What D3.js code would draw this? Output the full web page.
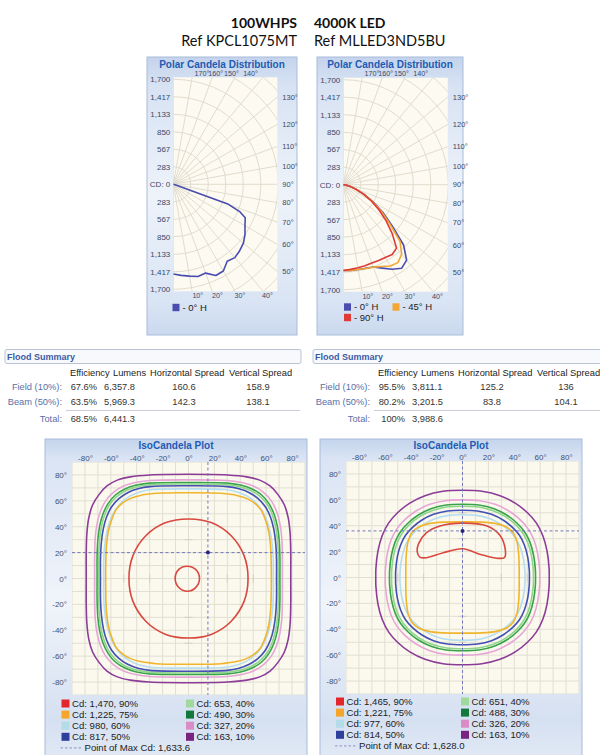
<!DOCTYPE html>
<html><head><meta charset="utf-8">
<script src="https://cdn.jsdelivr.net/npm/d3@7"></script>
<style>body{margin:0;background:#fff}svg{display:block}</style>
</head><body><svg id="c" width="600" height="755"></svg>
<script>
// ---------------- DATA ----------------
const titleLeft = ["100WHPS", "Ref KPCL1075MT"];
const titleRight = ["4000K LED", "Ref MLLED3ND5BU"];

// Polar candela distribution
const radialTicks = [283, 567, 850, 1133, 1417, 1700];
const radialTickLabels = ["283", "567", "850", "1,133", "1,417", "1,700"];
const gridCircles = [283, 567, 850, 1133, 1417, 1700, 1983, 2267];
const rightSideAngles = [50, 60, 70, 80, 90, 100, 110, 120, 130];
const topAngles = [170, 160, 150, 140];
const bottomAngles = [10, 20, 30, 40];

const leftPolarAngles = [0, 5, 10, 15, 20, 25, 30, 35, 40, 45, 50, 55, 60, 65, 67.5, 70, 75, 80, 85, 90];
const leftPolar0H = [1452, 1480, 1510, 1545, 1530, 1630, 1620, 1522, 1550, 1520, 1482, 1417, 1340, 1285, 1170, 950, 30, 10, 3, 0];

const rightPolarAngles = [0, 5, 10, 15, 20, 25, 30, 35, 40, 45, 50, 55, 60, 65, 70, 75, 80, 85, 90];
const rightPolar0H = [1390, 1392, 1395, 1400, 1418, 1490, 1580, 1650, 1595, 1380, 1030, 780, 560, 380, 230, 130, 60, 20, 0];
const rightPolar45H = [1390, 1392, 1395, 1405, 1420, 1460, 1520, 1540, 1470, 1300, 980, 750, 540, 370, 225, 125, 55, 18, 0];
const rightPolar90H = [1390, 1376, 1365, 1358, 1350, 1355, 1360, 1380, 1340, 1120, 900, 700, 520, 360, 220, 120, 55, 18, 0];

// Flood summary
const floodCols = ["Efficiency", "Lumens", "Horizontal Spread", "Vertical Spread"];
const floodRows = ["Field (10%):", "Beam (50%):", "Total:"];
const leftEfficiency = ["67.6%", "63.5%", "68.5%"];
const leftLumens = ["6,357.8", "5,969.3", "6,441.3"];
const leftHSpread = ["160.6", "142.3", ""];
const leftVSpread = ["158.9", "138.1", ""];
const rightEfficiency = ["95.5%", "80.2%", "100%"];
const rightLumens = ["3,811.1", "3,201.5", "3,988.6"];
const rightHSpread = ["125.2", "83.8", ""];
const rightVSpread = ["136", "104.1", ""];

// IsoCandela
const isoTicks = [-80, -60, -40, -20, 0, 20, 40, 60, 80];
const isoGrid = [-90, -80, -70, -60, -50, -40, -30, -20, -10, 0, 10, 20, 30, 40, 50, 60, 70, 80, 90];
const isoLevels = ["90%", "75%", "60%", "50%", "40%", "30%", "20%", "10%"];
const leftIsoLegend = ["Cd: 1,470, 90%", "Cd: 1,225, 75%", "Cd: 980, 60%", "Cd: 817, 50%", "Cd: 653, 40%", "Cd: 490, 30%", "Cd: 327, 20%", "Cd: 163, 10%"];
const rightIsoLegend = ["Cd: 1,465, 90%", "Cd: 1,221, 75%", "Cd: 977, 60%", "Cd: 814, 50%", "Cd: 651, 40%", "Cd: 488, 30%", "Cd: 326, 20%", "Cd: 163, 10%"];
const leftMaxText = "Point of Max Cd: 1,633.6";
const rightMaxText = "Point of Max Cd: 1,628.0";
const leftMaxPoint = [15, 20];
const rightMaxPoint = [0, 36];

// contour quadrants (H deg, V deg), top -> right, mirrored to the other quadrants
const leftIso10 = [[0,80.5],[30,80],[45,78.5],[55,76],[63,71.5],[69,65],[74,57],[77,47],[78.5,35],[79,20],[79,0]];
const leftIso20 = [[0,76.2],[30,75.7],[42,74],[51,71],[58,66.5],[64,60],[68,52],[70.5,43],[72,32],[72.5,18],[72.5,0]];
const leftIso30 = [[0,74.2],[30,73.7],[41,72],[49.5,69],[56.5,64.5],[62,58],[66,50],[68.5,41],[70,30],[70.6,17],[70.6,0]];
const leftIso40 = [[0,73],[30,72.5],[40,70.8],[48.5,67.8],[55.5,63.2],[61,57],[64.8,49],[67.3,40],[68.8,29.5],[69.4,16.5],[69.4,0]];
const leftIso50 = [[0,71.6],[30,71],[39,69.3],[47,66.3],[54,61.5],[59.5,55.2],[63.3,47.5],[65.8,38.5],[67.3,28],[68,15],[68,0]];
const leftIso60 = [[0,69.2],[28,68.7],[37,67],[45,63.8],[51.5,59],[56.8,52.5],[60.6,44.5],[63.2,35.5],[64.8,25],[65.5,13],[65.5,0]];
const leftIso75 = [[0,66.2],[25,65.8],[38,64],[46,61.3],[51.5,57.8],[56,53],[59.5,45],[62,36],[63.4,25],[63.9,12],[64,0]];
const leftIso90 = [[0,46],[18,43],[33,33],[43,17.5],[46,0]];
const leftIso90Inner = [[-1,9.5],[5.5,7],[8.5,0],[5.5,-7],[-1,-9.8],[-7.5,-7],[-10.3,0],[-7.5,7]];

const rightIso10 = [[0,67.4],[15,66.6],[29,63.2],[41,57.3],[50,50.2],[57,42.2],[62,32.5],[65.3,20.5],[66.9,7],[67,0]];
const rightIso20 = [[0,60],[13.4,59.3],[25.8,56.3],[36.5,51],[44.5,44.7],[50.7,37.6],[55.2,29],[58.1,18.3],[59.6,6.2],[59.7,0]];
const rightIso30 = [[0,56.6],[12.6,56],[24.4,53.1],[34.4,48.1],[42,42.1],[47.9,35.4],[52.1,27.3],[54.9,17.2],[56.3,5.9],[56.4,0]];
const rightIso40 = [[0,55],[12.2,54.4],[23.7,51.6],[33.4,46.8],[40.8,41],[46.5,34.4],[50.6,26.5],[53.3,16.7],[54.7,5.7],[54.8,0]];
const rightIso50 = [[0,52],[11.6,51.4],[22.4,48.8],[31.6,44.2],[38.6,38.7],[44,32.6],[47.8,25.1],[50.4,15.8],[51.6,5.4],[51.7,0]];
const rightIso60 = [[0,48.5],[10.8,48],[20.9,45.5],[29.5,41.2],[36,36.1],[41,30.4],[44.6,23.4],[47,14.7],[48.2,5],[48.3,0]];
const rightIso75 = [[0,43],[15,42.8],[26,41.6],[33.5,39.2],[39,34.8],[42,28],[43.4,18],[43.8,6],[43.8,0]];
const rightIso90 = [[0,42],[19,39.8],[29,32.5],[33,22],[32.5,15.5],[28,14.8],[24,15.3],[14,17.8],[0,22.2],[-14.8,19.1],[-27.7,15.3],[-33,15.8],[-35,20],[-34,26],[-28,34.5],[-17.4,39.8]];

// ---------------- STYLE ----------------
const legendColors = ["#e3262b", "#f4a52a", "#b3dbe8", "#2f3f9c", "#9fd99b", "#13793a", "#d88dc6", "#7a2482"];
const lineColors   = ["#d9483f", "#f0b52e", "#b5def0", "#4150b2", "#8fd58b", "#38a34a", "#e6a6d7", "#8b3b98"];
const polarColors = { h0: "#4a4db0", h45: "#f2a634", h90: "#e03a36" };
const FONT = "'Liberation Sans', Arial, sans-serif";

const svg = d3.select("#c");
const defs = svg.append("defs");
function grad(id, stops) {
  const lg = defs.append("linearGradient").attr("id", id).attr("x1", 0).attr("y1", 0).attr("x2", 0).attr("y2", 1);
  stops.forEach(([o, c]) => lg.append("stop").attr("offset", o).attr("stop-color", c));
}
grad("panelG", [["0", "#c4d4ec"], ["0.1", "#d7e2f3"], ["0.5", "#eef3fa"], ["0.88", "#d9e4f4"], ["1", "#cbd9ee"]]);
grad("isoG", [["0", "#c4d4ec"], ["0.06", "#dae4f4"], ["0.5", "#f0f4fa"], ["0.85", "#d5e0f1"], ["1", "#e4ebf6"]]);

svg.append("rect").attr("width", 600).attr("height", 755).attr("fill", "#fff");

// ---------------- TITLE ----------------
const TF = "Lato, 'Open Sans', sans-serif";
const titleY = [28, 45.5], titleFS = [14, 14.5], titleFW = [700, 400];
[0, 1].forEach(i => {
  svg.append("text").attr("x", 297).attr("y", titleY[i]).attr("text-anchor", "end")
    .attr("font-family", TF).attr("font-size", titleFS[i]).attr("font-weight", titleFW[i])
    .attr("fill", "#111").text(titleLeft[i]);
  svg.append("text").attr("x", 314).attr("y", titleY[i]).attr("text-anchor", "start")
    .attr("font-family", TF).attr("font-size", titleFS[i]).attr("font-weight", titleFW[i])
    .attr("fill", "#111").text(titleRight[i]);
});

// ---------------- POLAR ----------------
let clipId = 0;
function drawPolar(cfg) {
  const g = svg.append("g");
  g.append("rect").attr("x", cfg.px).attr("y", 57).attr("width", cfg.pw).attr("height", 278)
    .attr("fill", "url(#panelG)").attr("stroke", "#a9bcd8").attr("stroke-width", 1);
  g.append("text").attr("x", cfg.px + cfg.pw / 2).attr("y", 68).attr("text-anchor", "middle")
    .attr("font-family", FONT).attr("font-weight", 700).attr("font-size", 10).attr("fill", "#1d5bb4")
    .text("Polar Candela Distribution");
  const cx = cfg.cx, cy = cfg.cy, R = cfg.R;
  const r = d3.scaleLinear().domain([0, 1700]).range([0, R]);
  const x0 = cx, x1 = cx + cfg.w, y0 = cy - R - 2, y1 = cy + R + 2;
  g.append("rect").attr("x", x0).attr("y", y0).attr("width", x1 - x0).attr("height", y1 - y0).attr("fill", "#fcfaf1");
  const id = "clip" + (clipId++);
  defs.append("clipPath").attr("id", id).append("rect").attr("x", x0).attr("y", y0).attr("width", x1 - x0).attr("height", y1 - y0);
  const pg = g.append("g").attr("clip-path", `url(#${id})`);
  const rad = a => a * Math.PI / 180;
  const pt = (a, v) => [cx + r(v) * Math.sin(rad(a)), cy + r(v) * Math.cos(rad(a))];
  pg.selectAll("circle.grid").data(gridCircles).join("circle").attr("cx", cx).attr("cy", cy)
    .attr("r", d => r(d)).attr("fill", "none").attr("stroke", "#e1dccd").attr("stroke-width", 1);
  pg.selectAll("line.ray").data(d3.range(0, 181, 10)).join("line")
    .attr("x1", cx).attr("y1", cy).attr("x2", d => pt(d, 3000)[0]).attr("y2", d => pt(d, 3000)[1])
    .attr("stroke", "#e1dccd").attr("stroke-width", 1);
  const line = d3.line().x(d => pt(d[0], d[1])[0]).y(d => pt(d[0], d[1])[1]);
  cfg.series.forEach(s => {
    pg.append("path").attr("d", line(s.angles.map((a, i) => [a, s.values[i]])))
      .attr("fill", "none").attr("stroke", s.color).attr("stroke-width", 1.6).attr("stroke-linejoin", "round");
  });
  const lab = (x, y, t, anchor, fs) => g.append("text").attr("x", x).attr("y", y).attr("dy", "0.35em")
    .attr("text-anchor", anchor).attr("font-family", FONT).attr("font-size", fs).attr("fill", "#3c4866").text(t);
  radialTicks.forEach((v, i) => {
    lab(cx - 3, cy - r(v), radialTickLabels[i], "end", 8);
    lab(cx - 3, cy + r(v), radialTickLabels[i], "end", 8);
  });
  lab(cx - 3, cy, "CD: 0", "end", 8);
  rightSideAngles.forEach(a => {
    const y = cy + (x1 - cx) / Math.tan(rad(a));
    lab(x1 + 5, y, a + "°", "start", 7.5);
  });
  const midX = (x0 + x1) / 2;
  topAngles.forEach(a => {
    const xi = cx + R * Math.tan(rad(180 - a));
    lab(0.7 * xi + 0.3 * midX, y0 - 4, a + "°", "middle", 7.2);
  });
  bottomAngles.forEach(a => {
    const xi = cx + R * Math.tan(rad(a));
    lab(xi + 6, y1 + 4.5, a + "°", "middle", 7.2);
  });
  cfg.legend.forEach(l => {
    g.append("rect").attr("x", l.x).attr("y", l.y - 3.7).attr("width", 7).attr("height", 7.4).attr("fill", l.color);
    g.append("text").attr("x", l.x + 10).attr("y", l.y).attr("dy", "0.35em").attr("font-family", FONT)
      .attr("font-size", 9.5).attr("fill", "#222").text(l.text);
  });
}

drawPolar({
  px: 147, pw: 150, cx: 173.3, cy: 184.3, R: 105, w: 104,
  series: [{ angles: leftPolarAngles, values: leftPolar0H, color: polarColors.h0 }],
  legend: [{ x: 172.5, y: 307.5, color: polarColors.h0, text: "- 0° H" }]
});
drawPolar({
  px: 317, pw: 146, cx: 343.3, cy: 184.7, R: 105, w: 104.5,
  series: [
    { angles: rightPolarAngles, values: rightPolar0H, color: polarColors.h0 },
    { angles: rightPolarAngles, values: rightPolar45H, color: polarColors.h45 },
    { angles: rightPolarAngles, values: rightPolar90H, color: polarColors.h90 }
  ],
  legend: [
    { x: 344, y: 307, color: polarColors.h0, text: "- 0° H" },
    { x: 392.5, y: 307, color: polarColors.h45, text: "- 45° H" },
    { x: 344, y: 317.5, color: polarColors.h90, text: "- 90° H" }
  ]
});

// ---------------- FLOOD SUMMARY ----------------
function drawFlood(ox, eff, lum, hs, vs) {
  const g = svg.append("g").attr("transform", `translate(${ox},0)`);
  g.append("rect").attr("x", 5).attr("y", 349.5).attr("width", 296).attr("height", 14).attr("rx", 2)
    .attr("fill", "#f7f9fc").attr("stroke", "#b8c3d4");
  g.append("text").attr("x", 7).attr("y", 360).attr("font-family", FONT).attr("font-size", 9)
    .attr("font-weight", 700).attr("fill", "#3b5ba5").text("Flood Summary");
  const hx = [70, 113, 150, 229];
  floodCols.forEach((c, i) => g.append("text").attr("x", hx[i]).attr("y", 375.5).attr("font-family", FONT)
    .attr("font-size", 9.3).attr("fill", "#222").text(c));
  const ry = [389.5, 405, 422];
  const t = (x, y, s, a, col) => g.append("text").attr("x", x).attr("y", y).attr("text-anchor", a)
    .attr("font-family", FONT).attr("font-size", 9.3).attr("fill", col).text(s);
  floodRows.forEach((lab, i) => {
    t(62, ry[i], lab, "end", "#5870a8");
    t(97, ry[i], eff[i], "end", "#333");
    t(104, ry[i], lum[i], "start", "#333");
    t(184, ry[i], hs[i], "middle", "#333");
    t(258, ry[i], vs[i], "middle", "#333");
  });
  g.append("line").attr("x1", 66).attr("x2", 300).attr("y1", 410.5).attr("y2", 410.5).attr("stroke", "#c9ced8");
}
drawFlood(0, leftEfficiency, leftLumens, leftHSpread, leftVSpread);
drawFlood(308, rightEfficiency, rightLumens, rightHSpread, rightVSpread);

// ---------------- ISOCANDELA ----------------
function mirror(q) {
  const a = q;
  const b = q.slice(0, -1).reverse().map(([x, y]) => [x, -y]);
  const c = q.slice(1).map(([x, y]) => [-x, -y]);
  const d = q.slice(1, -1).reverse().map(([x, y]) => [-x, y]);
  return a.concat(b, c, d);
}
function drawIso(cfg) {
  const g = svg.append("g");
  g.append("rect").attr("x", cfg.px).attr("y", 439).attr("width", cfg.pw).attr("height", 330)
    .attr("fill", "url(#isoG)").attr("stroke", "#a9bcd8");
  g.append("text").attr("x", cfg.px + cfg.pw / 2).attr("y", 449).attr("text-anchor", "middle")
    .attr("font-family", FONT).attr("font-weight", 700).attr("font-size", 10).attr("fill", "#1d5bb4")
    .text("IsoCandela Plot");
  const x = d3.scaleLinear().domain([-90, 90]).range(cfg.xr);
  const y = d3.scaleLinear().domain([-90, 90]).range(cfg.yr);
  const [X0, X1] = cfg.xr, [Y1, Y0] = cfg.yr;
  g.append("rect").attr("x", X0).attr("y", Y0).attr("width", X1 - X0).attr("height", Y1 - Y0).attr("fill", "#fbf9ed");
  const id = "clip" + (clipId++);
  defs.append("clipPath").attr("id", id).append("rect").attr("x", X0).attr("y", Y0).attr("width", X1 - X0).attr("height", Y1 - Y0);
  const pg = g.append("g").attr("clip-path", `url(#${id})`);
  pg.selectAll("line.v").data(isoGrid).join("line").attr("x1", d => x(d)).attr("x2", d => x(d))
    .attr("y1", Y0).attr("y2", Y1).attr("stroke", "#e1ded2").attr("stroke-width", 1);
  pg.selectAll("line.h").data(isoGrid).join("line").attr("y1", d => y(d)).attr("y2", d => y(d))
    .attr("x1", X0).attr("x2", X1).attr("stroke", "#e1ded2").attr("stroke-width", 1);
  [-50, -30, 30, 50].forEach(v => {
    pg.append("line").attr("x1", x(v)).attr("x2", x(v)).attr("y1", y(0) - 4).attr("y2", y(0) + 4).attr("stroke", "#d2cfc4");
    pg.append("line").attr("y1", y(v)).attr("y2", y(v)).attr("x1", x(0) - 4).attr("x2", x(0) + 4).attr("stroke", "#d2cfc4");
  });
  const ax = g.append("g").attr("transform", `translate(0,${Y0})`)
    .call(d3.axisTop(x).tickValues(isoTicks).tickSize(0).tickPadding(1.5).tickFormat(d => d + "°"));
  const ay = g.append("g").attr("transform", `translate(${X0 - 2},0)`)
    .call(d3.axisLeft(y).tickValues(isoTicks).tickSize(0).tickPadding(3).tickFormat(d => d + "°"));
  [ax, ay].forEach(a => {
    a.select(".domain").remove();
    a.selectAll("text").attr("font-family", FONT).attr("font-size", 8).attr("fill", "#46506e");
  });
  const line = d3.line().x(d => x(d[0])).y(d => y(d[1])).curve(d3.curveCatmullRomClosed.alpha(0.5));
  for (let i = cfg.contours.length - 1; i >= 0; i--) {
    cfg.contours[i].forEach(pts => {
      pg.append("path").attr("d", line(pts)).attr("fill", "none").attr("stroke", lineColors[i])
        .attr("stroke-width", 1.6);
    });
  }
  const [mx, my] = cfg.max;
  pg.append("line").attr("x1", x(mx)).attr("x2", x(mx)).attr("y1", Y0).attr("y2", Y1)
    .attr("stroke", "#7478bd").attr("stroke-dasharray", "3,2.5").attr("stroke-width", 1);
  pg.append("line").attr("y1", y(my)).attr("y2", y(my)).attr("x1", X0).attr("x2", X1)
    .attr("stroke", "#7478bd").attr("stroke-dasharray", "3,2.5").attr("stroke-width", 1);
  pg.append("circle").attr("cx", x(mx)).attr("cy", y(my)).attr("r", 2).attr("fill", "#23237e");
  const L = cfg.legendPos;
  cfg.legend.forEach((txt, i) => {
    const col = Math.floor(i / 4), row = i % 4;
    const lx = col ? L.x2 : L.x1, ly = L.y + row * 11.1;
    g.append("rect").attr("x", lx).attr("y", ly - 4).attr("width", 8).attr("height", 8).attr("fill", legendColors[i]);
    g.append("text").attr("x", lx + 10.5).attr("y", ly).attr("dy", "0.36em").attr("font-family", FONT)
      .attr("font-size", 9.6).attr("fill", "#222").text(txt);
  });
  const my2 = L.y + 4 * 11.1;
  g.append("line").attr("x1", L.x1 - 1).attr("x2", L.x1 + 20).attr("y1", my2).attr("y2", my2)
    .attr("stroke", "#8f93c4").attr("stroke-dasharray", "2.5,2");
  g.append("text").attr("x", L.x1 + 23).attr("y", my2).attr("dy", "0.36em").attr("font-family", FONT)
    .attr("font-size", 9.6).attr("fill", "#222").text(cfg.maxText);
}

drawIso({
  px: 45, pw: 262, xr: [72, 305], yr: [695, 462],
  contours: [
    [mirror(leftIso90), leftIso90Inner], [mirror(leftIso75)], [mirror(leftIso60)], [mirror(leftIso50)],
    [mirror(leftIso40)], [mirror(leftIso30)], [mirror(leftIso20)], [mirror(leftIso10)]
  ],
  max: leftMaxPoint, legend: leftIsoLegend, maxText: leftMaxText,
  legendPos: { x1: 61.5, x2: 186, y: 703.5 }
});
drawIso({
  px: 320, pw: 262, xr: [346, 579], yr: [694, 461],
  contours: [
    [rightIso90], [mirror(rightIso75)], [mirror(rightIso60)], [mirror(rightIso50)],
    [mirror(rightIso40)], [mirror(rightIso30)], [mirror(rightIso20)], [mirror(rightIso10)]
  ],
  max: rightMaxPoint, legend: rightIsoLegend, maxText: rightMaxText,
  legendPos: { x1: 336, x2: 461, y: 701.5 }
});
</script></body></html>
